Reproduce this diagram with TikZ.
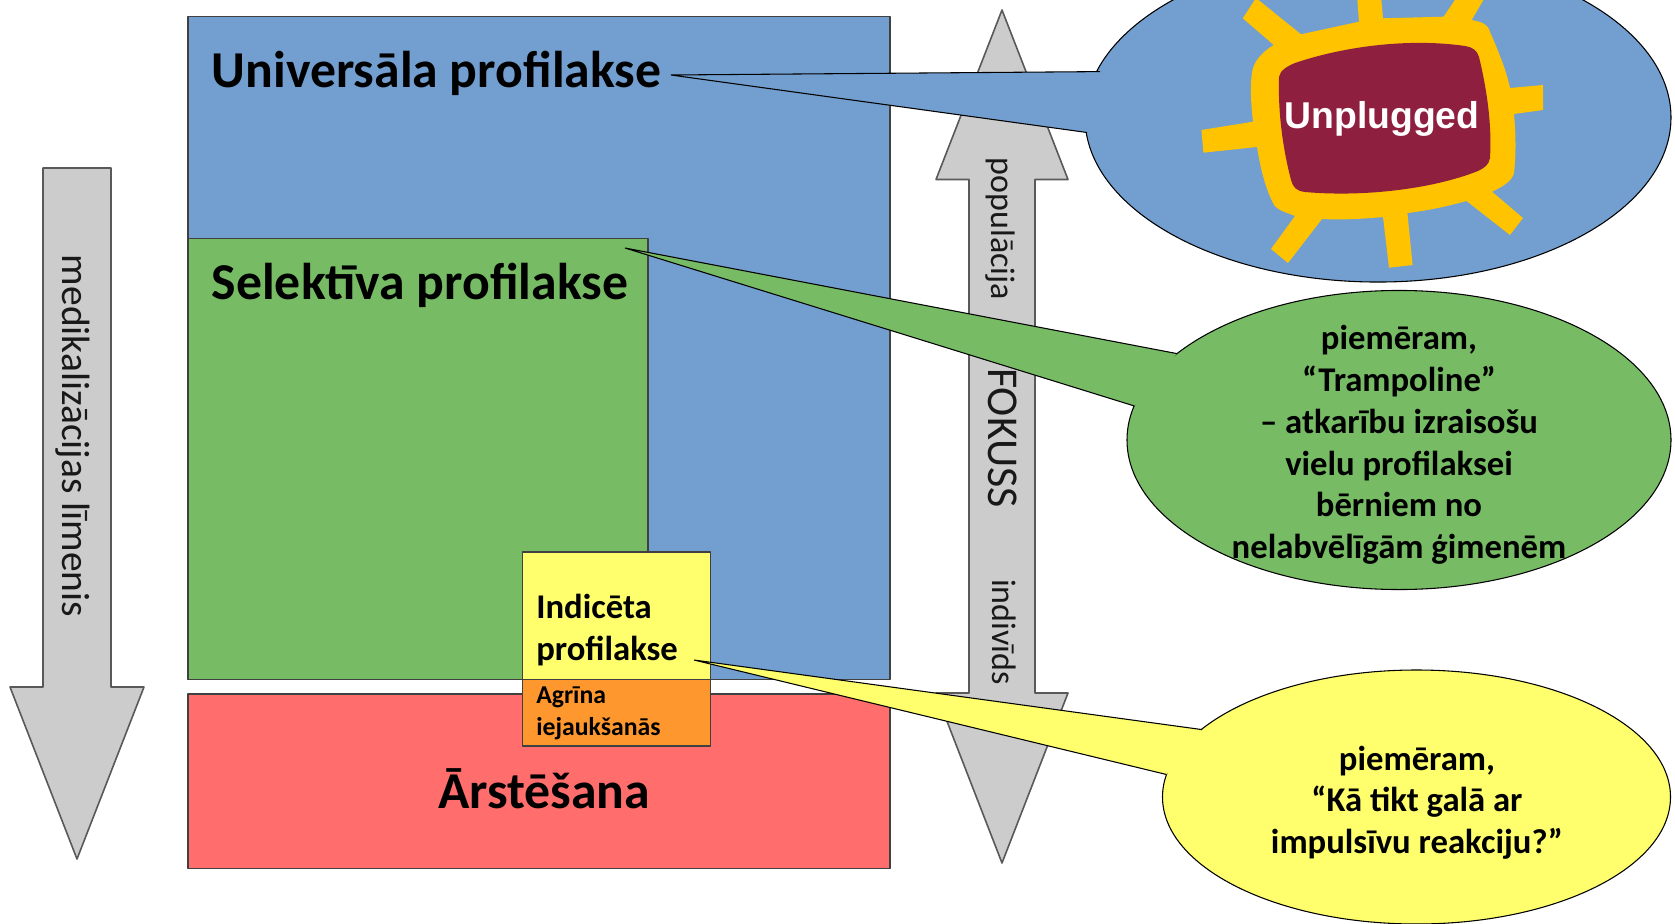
\documentclass[tikz,border=0pt]{standalone}
\usepackage{fontspec}
\setmainfont{Carlito}
\usetikzlibrary{shapes.geometric}
\definecolor{cblue}{HTML}{729FCF}
\definecolor{cgreen}{HTML}{77BC65}
\definecolor{cred}{HTML}{FF6D6D}
\definecolor{cyell}{HTML}{FFFF6D}
\definecolor{corange}{HTML}{FF972F}
\definecolor{cgrey}{HTML}{CCCCCC}
\definecolor{csun}{HTML}{FFC300}
\definecolor{cmaroon}{HTML}{8F1F3F}
\tikzset{
  zone/.style={draw=black!75,line width=1.2pt,line join=round},
  garrow/.style={draw=black!65,fill=cgrey,line width=1.2pt,line join=round},
  bubble/.style={ellipse,draw=black,line width=0.8pt,inner sep=0pt},
  bigtxt/.style={font=\bfseries\fontsize{38.8}{44}\selectfont,inner sep=0pt,anchor=west},
  bubtxt/.style={font=\bfseries\fontsize{26}{31.3}\selectfont,align=center,inner sep=0pt},
  sidetxt/.style={rotate=-90,inner sep=0pt,text=black!90},
}
\begin{document}
\begin{tikzpicture}[x=0.75pt,y=-0.75pt]
\clip (0,0) rectangle (1675,924);
\fill[white] (0,0) rectangle (1675,924);
% zones
\draw[zone,fill=cblue] (188,16.5) rectangle (890,679.5);
\draw[zone,fill=cgreen] (188,238.5) rectangle (648,679.5);
\draw[zone,fill=cred] (188,694) rectangle (890,868.5);
% arrows
\draw[garrow] (43,168) -- (111,168) -- (111,687) -- (144,687) -- (77,859) -- (10,687) -- (43,687) -- cycle;
\draw[garrow] (1002,10) -- (1068,179.5) -- (1035,179.5) -- (1035,693) -- (1068,693) -- (1002,863) -- (936,693) -- (969,693) -- (969,179.5) -- (936,179.5) -- cycle;
\node[sidetxt,font=\fontsize{29.6}{34}\selectfont] (med) at (73,436) {medikalizācijas līmenis};
\node[sidetxt,font=\fontsize{25.5}{30}\selectfont] (pop) at (1000,229) {populācija};
\node[sidetxt,font=\fontsize{33}{36}\selectfont] (fok) at (1003,438) {FOKUSS};
\node[sidetxt,font=\fontsize{25.5}{30}\selectfont] (ind) at (1004,632) {indivīds};
% small boxes
\draw[zone,fill=cyell] (522.5,552) rectangle (710.5,679.5);
\draw[zone,fill=corange] (522.5,679.5) rectangle (710.5,746);
% labels
\node[bigtxt] (uni) at (211.5,73) {Universāla profilakse};
\node[bigtxt] (sel) at (211.5,285) {Selektīva profilakse};
\node[bigtxt,anchor=center] (ars) at (544,789) {Ārstēšana};
\node[anchor=west,align=left,inner sep=0pt,font=\bfseries\fontsize{26}{32}\selectfont] (indi) at (536,630) {Indicēta\\profilakse};
\node[anchor=west,align=left,inner sep=0pt,font=\bfseries\fontsize{19.3}{24}\selectfont] (agr) at (536,713.5) {Agrīna\\iejaukšanās};
% bubbles
\node[bubble,fill=cblue,minimum width=439.5pt,minimum height=246.8pt] (bA) at (1378,117.5) {};
\node[bubble,fill=cgreen,minimum width=408pt,minimum height=224.3pt] (bB) at (1399,440) {};
\node[bubble,fill=cyell,minimum width=381pt,minimum height=190.5pt] (bC) at (1416.5,797) {};
% tails
\coordinate (tA) at (671,75); \coordinate (a1) at (1100,71.6); \coordinate (a2) at (1087,132.5);
\coordinate (tB) at (625,248); \coordinate (b1) at (1177,353.6); \coordinate (b2) at (1134.4,406);
\coordinate (tC) at (694,660); \coordinate (c1) at (1202,729.6); \coordinate (c2) at (1166.5,774.5);
\fill[cblue] (tA) -- (a1) -- (a2) -- cycle;
\draw[line width=0.8pt] (a1) -- (tA) -- (a2);
\fill[cgreen] (tB) -- (b1) -- (b2) -- cycle;
\draw[line width=0.8pt] (b1) -- (tB) -- (b2);
\fill[cyell] (tC) -- (c1) -- (c2) -- cycle;
\draw[line width=0.8pt] (c1) -- (tC) -- (c2);
% sun
\fill[csun,line join=round] (1273.7,45) -- (1242.8,18.3) -- (1256,-2) -- (1301,34.3)
  -- (1359,21.7) -- (1357,-4) -- (1381,-4) -- (1383,18.3)
  -- (1443.6,16.7) -- (1457.6,-4) -- (1485.7,-4) -- (1471.7,20)
  .. controls (1482,22) and (1488,24) .. (1490,32)
  .. controls (1500,55) and (1506,70) .. (1510,88)
  -- (1543,85) -- (1543,110) -- (1514,114)
  .. controls (1516,135) and (1516,155) .. (1514,173)
  .. controls (1512,182) and (1500,188) .. (1492,191.7)
  -- (1523,218) -- (1510,235) -- (1466.5,201)
  .. controls (1445,207) and (1425,211) .. (1407.4,213)
  -- (1412.6,265) -- (1389,267.7) -- (1383,217)
  .. controls (1362,219) and (1342,220) .. (1322,219)
  -- (1288,263) -- (1271,249) -- (1295,216)
  .. controls (1285,212) and (1276,210) .. (1273,203)
  .. controls (1264,185) and (1260,165) .. (1257,147)
  -- (1203.4,152.7) -- (1201.4,130) -- (1253,121.7)
  .. controls (1251,105) and (1250,85) .. (1252,73)
  .. controls (1253,62) and (1262,52) .. (1273.7,45) -- cycle;
\fill[cmaroon] (1279,77)
  .. controls (1280,70) and (1288,66) .. (1295,63)
  .. controls (1345,46) and (1410,38) .. (1465,46)
  .. controls (1472,47) and (1477,50) .. (1479,57)
  .. controls (1487,90) and (1492,125) .. (1490,158)
  .. controls (1489,165) and (1484,168) .. (1478,171)
  .. controls (1430,190) and (1360,197) .. (1305,192)
  .. controls (1296,191) and (1293,187) .. (1291,180)
  .. controls (1282,145) and (1278,110) .. (1279,77) -- cycle;
\node[font=\fontsize{28}{32}\selectfont,inner sep=0pt,text=white] (unp) at (1382,119) {\setmainfont{Liberation Sans}\bfseries Unplugged};
\node[bubtxt] (tB1) at (1399,445) {piemēram,\\“Trampoline”\\– atkarību izraisošu\\vielu profilaksei\\bērniem no\\nelabvēlīgām ģimenēm};
\node[bubtxt] (tC1) at (1417,802.5) {piemēram,\\“Kā tikt galā ar\\impulsīvu reakciju?”};
\end{tikzpicture}
\end{document}
